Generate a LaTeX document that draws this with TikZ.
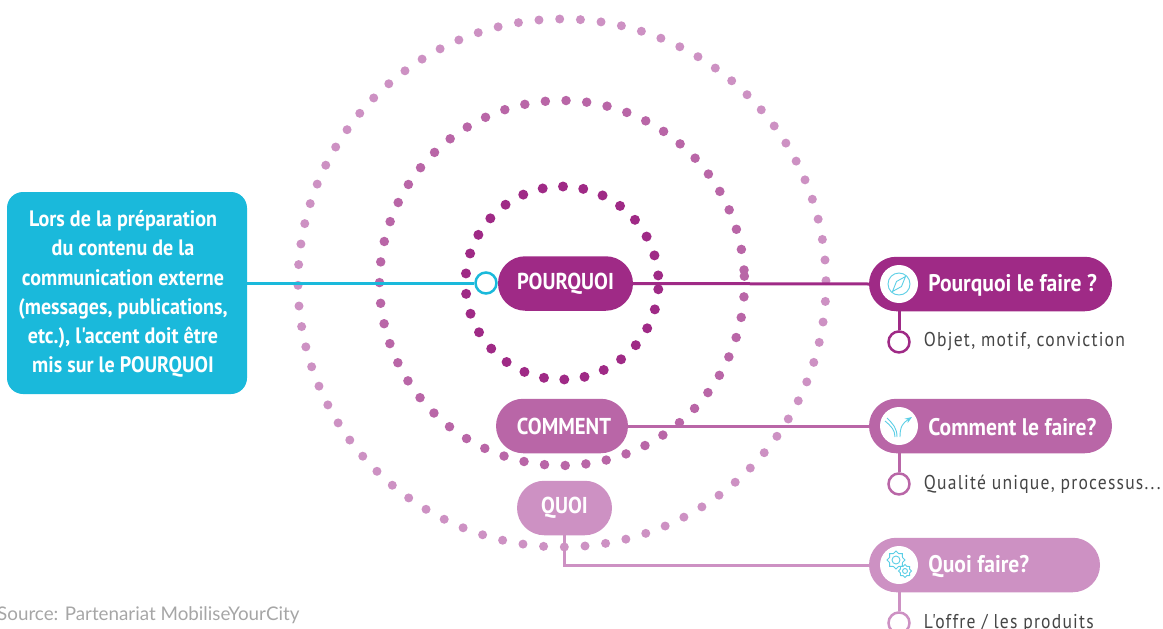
\documentclass[tikz,border=0pt]{standalone}
\usepackage{fontspec}
\setmainfont{PT Sans}
\newfontfamily\labelfont[FakeStretch=0.9]{PT Sans}
\newfontfamily\sublabelfont[LetterSpace=6,FakeStretch=0.88]{PT Sans}
\newfontfamily\sourcefont{Lato}
\usepackage{tikz}
\usetikzlibrary{calc}
\usetikzlibrary{positioning, shapes.geometric, shapes.misc}
\usetikzlibrary{arrows.meta}
\definecolor{why}{HTML}{9F2A86}
\definecolor{how}{HTML}{B966A7}
\definecolor{what}{HTML}{CD91C3}
\definecolor{accent}{HTML}{1AB9DB}
\definecolor{iconblue}{HTML}{5CCFE6}
\definecolor{sublabel}{HTML}{454545}
\definecolor{source}{HTML}{A6A6A6}
\begin{document}
\begin{tikzpicture}[
			x=1pt, y=-1pt,
			ringDot/.style={circle, inner sep=0pt, draw=none},
			whyDot/.style={ringDot, fill=why, minimum size=10pt},
			howDot/.style={ringDot, fill=how, minimum size=9.5pt},
			whatDot/.style={ringDot, fill=what, minimum size=9pt},
			pill/.style={rounded rectangle, minimum height=54.5pt, inner sep=0pt, text=white, font=\labelfont\bfseries\fontsize{23}{25}\selectfont},
			question/.style={pill, minimum width=243pt},
			iconDisc/.style={circle, fill=white, minimum size=38pt, inner sep=0pt},
			ring/.style={circle, draw, fill=white, line width=2.5pt, minimum size=21pt, inner sep=0pt},
			pillText/.style={text=white, inner sep=0pt, anchor=west, yshift=-1.5pt, font=\labelfont\bfseries\fontsize{24}{26}\selectfont},
			subText/.style={text=sublabel, inner sep=0pt, anchor=west, font=\sublabelfont\fontsize{20}{22}\selectfont},
			gear/.style={star, star points=8, star point ratio=1.3, draw=iconblue, line width=0.8pt, inner sep=0pt},
			link/.style={line width=3pt},
			iconLine/.style={iconblue, line width=0.9pt},
			]
			\useasboundingbox (0,0) rectangle (1163,629);
			\coordinate (center) at (562,283);
			
			% rings
			\foreach \x in {0,...,79}
			{\draw node[whatDot] (outer\x) at ($(center)+({0.5+\x*4.5}:264pt)$) {};}
			\foreach \x in {0,...,55}
			{\draw node[howDot] (middle\x) at ($(center)+({4.1+\x*6.51}:182.5pt)$) {};}
			\foreach \x in {0,...,29}
			{\draw node[whyDot] (inner\x) at ($(center)+({4.5+\x*12.13}:96.5pt)$) {};}
			
			% left
			\draw node[fill=accent, rounded corners=16pt, minimum width=240pt, minimum height=202pt, inner sep=0pt] (intro) at (127,293) {};
			\draw node[inner sep=0pt, text=white, align=center, font=\labelfont\bfseries\fontsize{22.3}{29.2}\selectfont] (introText) at (123,294) {Lors de la préparation\\du contenu de la\\communication externe\\(messages, publications,\\etc.), l'accent doit être\\mis sur le POURQUOI};
			
			% centre
			\draw node[pill, fill=why, minimum width=135pt] (pourquoi) at (565.5,283.5) {\raisebox{-1.5pt}{POURQUOI}};
			\draw node[pill, fill=how, minimum width=132pt] (comment) at (562,426) {\hspace*{4pt}\raisebox{-1.5pt}{COMMENT}};
			\draw node[pill, fill=what, minimum width=95pt] (quoi) at (564.5,508) {\raisebox{-1.5pt}{QUOI}};
			\draw node[ring, draw=accent] (start) at (486,283) {};
			
			% right
			\draw node[question, fill=why] (faire1) at (990.5,284) {};
			\draw node[question, fill=how] (faire2) at (990.5,426) {};
			\draw node[question, fill=what, minimum width=231pt] (faire3) at (984.5,565) {};
			\foreach \x in {1,2,3}
			{\draw node[iconDisc, right=11pt of faire\x.west] (icon\x) {};}
			\draw node[pillText, right=10pt of icon1] (title1) {Pourquoi le faire ?};
			\draw node[pillText, right=10pt of icon2] (title2) {Comment le faire?};
			\draw node[pillText, right=10pt of icon3] (title3) {Quoi faire?};
			
			\draw node[ring, draw=why, below=27pt of icon1] (sub1) {};
			\draw node[ring, draw=how, below=27pt of icon2] (sub2) {};
			\draw node[ring, draw=what, below=27pt of icon3] (sub3) {};
			\draw node[subText, right=13pt of sub1] (detail1) {Objet, motif, conviction};
			\draw node[subText, right=13pt of sub2] (detail2) {Qualité unique, processus...};
			\draw node[subText, right=13pt of sub3] (detail3) {L'offre / les produits};
			
			\draw node[text=source, inner sep=0pt, anchor=west, font=\sourcefont\fontsize{18.8}{20}\selectfont] (sourceText) at (-3,615) {Source: Partenariat MobiliseYourCity};
			
			% Arrow
			\draw [link, accent] (intro.east |- start) -- (start.west);
			\draw [link, why] (pourquoi.east) -- (faire1.west);
			\draw [link, how] (comment.east) -- (faire2.west);
			\draw [link, what] (quoi.south) |- (faire3.west);
			\draw [link, why] (faire1.south -| sub1) -- (sub1.north);
			\draw [link, how] (faire2.south -| sub2) -- (sub2.north);
			\draw [link, what] (faire3.south -| sub3) -- (sub3.north);
			
			% icons
			\draw [iconLine] (icon1) circle (11pt);
			\draw [iconLine] ($(icon1)+(6.5,-7.5)$) -- ($(icon1)+(2.5,2.5)$) -- ($(icon1)+(-6.5,7.5)$) -- ($(icon1)+(-2.5,-2.5)$) -- cycle;
			\draw [iconLine, -{Stealth[open]}] ($(icon2)+(1,11)$) .. controls ($(icon2)+(1,0)$) and ($(icon2)+(4,-3)$) .. ($(icon2)+(13,-9)$);
			\draw [iconLine] ($(icon2)+(-2,11)$) .. controls ($(icon2)+(-2,2)$) and ($(icon2)+(-6,-2)$) .. ($(icon2)+(-12,-8)$);
			\draw [iconLine] ($(icon2)+(-4,11)$) .. controls ($(icon2)+(-4,4)$) and ($(icon2)+(-8,0)$) .. ($(icon2)+(-14,-5)$);
			\draw node[gear, minimum size=18pt] (gear1) at ($(icon3)+(-3,-5)$) {};
			\draw node[gear, minimum size=13pt] (gear2) at ($(icon3)+(6,6)$) {};
			\draw [iconLine] (gear1) circle (4pt);
			\draw [iconLine] (gear2) circle (2.5pt);
		\end{tikzpicture}
\end{document}
